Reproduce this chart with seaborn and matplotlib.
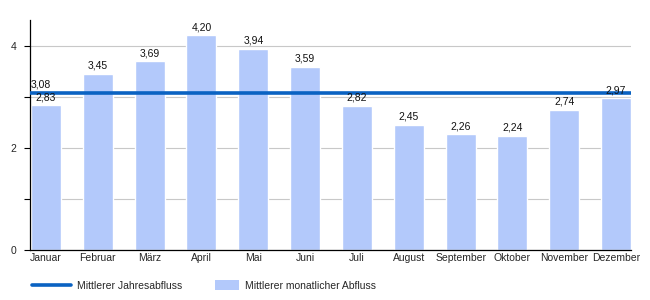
import matplotlib
matplotlib.use("Agg")
import matplotlib.pyplot as plt
import seaborn as sns
import pandas as pd
from matplotlib.patches import Patch, Rectangle
from matplotlib.lines import Line2D
from matplotlib.legend_handler import HandlerPatch

months = ["Januar", "Februar", "März", "April", "Mai", "Juni", "Juli",
          "August", "September", "Oktober", "November", "Dezember"]
monthly = [2.83, 3.45, 3.69, 4.20, 3.94, 3.59, 2.82, 2.45, 2.26, 2.24, 2.74, 2.97]
annual = 3.08

sns.set_theme(style="white")
plt.rcParams['font.family'] = ['Liberation Sans', 'DejaVu Sans']

bar_color = "#b3c9fb"
line_color = "#0a62c2"

df = pd.DataFrame({"Monat": months, "Abfluss": monthly})

fig = plt.figure(figsize=(6.5, 3.0), dpi=100)
ax = fig.add_axes([0.046, 0.1667, 0.925, 0.7666])

sns.barplot(data=df, x="Monat", y="Abfluss", color=bar_color, width=0.58,
            saturation=1, ax=ax, zorder=2)

ax.axhline(annual, color=line_color, lw=2.6, zorder=3)

for i, v in enumerate(monthly):
    ax.text(i, v + 0.06, f"{v:.2f}".replace(".", ","), ha="center", va="bottom",
            fontsize=7.5, color="#111111", zorder=4)
ax.text(-0.3, annual + 0.06, f"{annual:.2f}".replace(".", ","), ha="left", va="bottom",
        fontsize=7.5, color="#111111", zorder=4)

ax.set_xlim(-0.31, 11.29)
ax.set_ylim(0, 4.5)
ax.set_yticks([0, 2, 4])
ax.set_yticklabels(["0", "2", "4"])
ax.set_yticks([1, 3], minor=True)
ax.yaxis.grid(True, which="both", color="#c8c8c8", lw=0.8, zorder=0)
ax.set_axisbelow(True)
ax.tick_params(axis="y", which="both", left=True, length=4, width=0.8, color="black",
               labelsize=7.5, pad=6)
ax.tick_params(axis="x", bottom=False, length=0, labelsize=7.5, pad=2)
ax.set_xlabel("")
ax.set_ylabel("")
for s in ["top", "right"]:
    ax.spines[s].set_visible(False)
for s in ["left", "bottom"]:
    ax.spines[s].set_color("black")
    ax.spines[s].set_linewidth(0.9)


def small_patch(legend, orig_handle, xdescent, ydescent, width, height, fontsize):
    w = width * 0.62
    h = height * 1.25
    return Rectangle((-xdescent + (width - w), -ydescent - (h - height) / 2), w, h)


handles = [Line2D([0], [0], color=line_color, lw=2.6),
           Patch(facecolor=bar_color, edgecolor="none")]
labels = ["Mittlerer Jahresabfluss", "Mittlerer monatlicher Abfluss"]
fig.legend(handles, labels, loc="lower left", bbox_to_anchor=(0.035, 0.0), ncol=2,
           frameon=False, fontsize=7.5, handlelength=3.7,
           columnspacing=1.75, handletextpad=0.6,
           handler_map={Patch: HandlerPatch(patch_func=small_patch)})

fig.savefig("out.png", dpi=100)
